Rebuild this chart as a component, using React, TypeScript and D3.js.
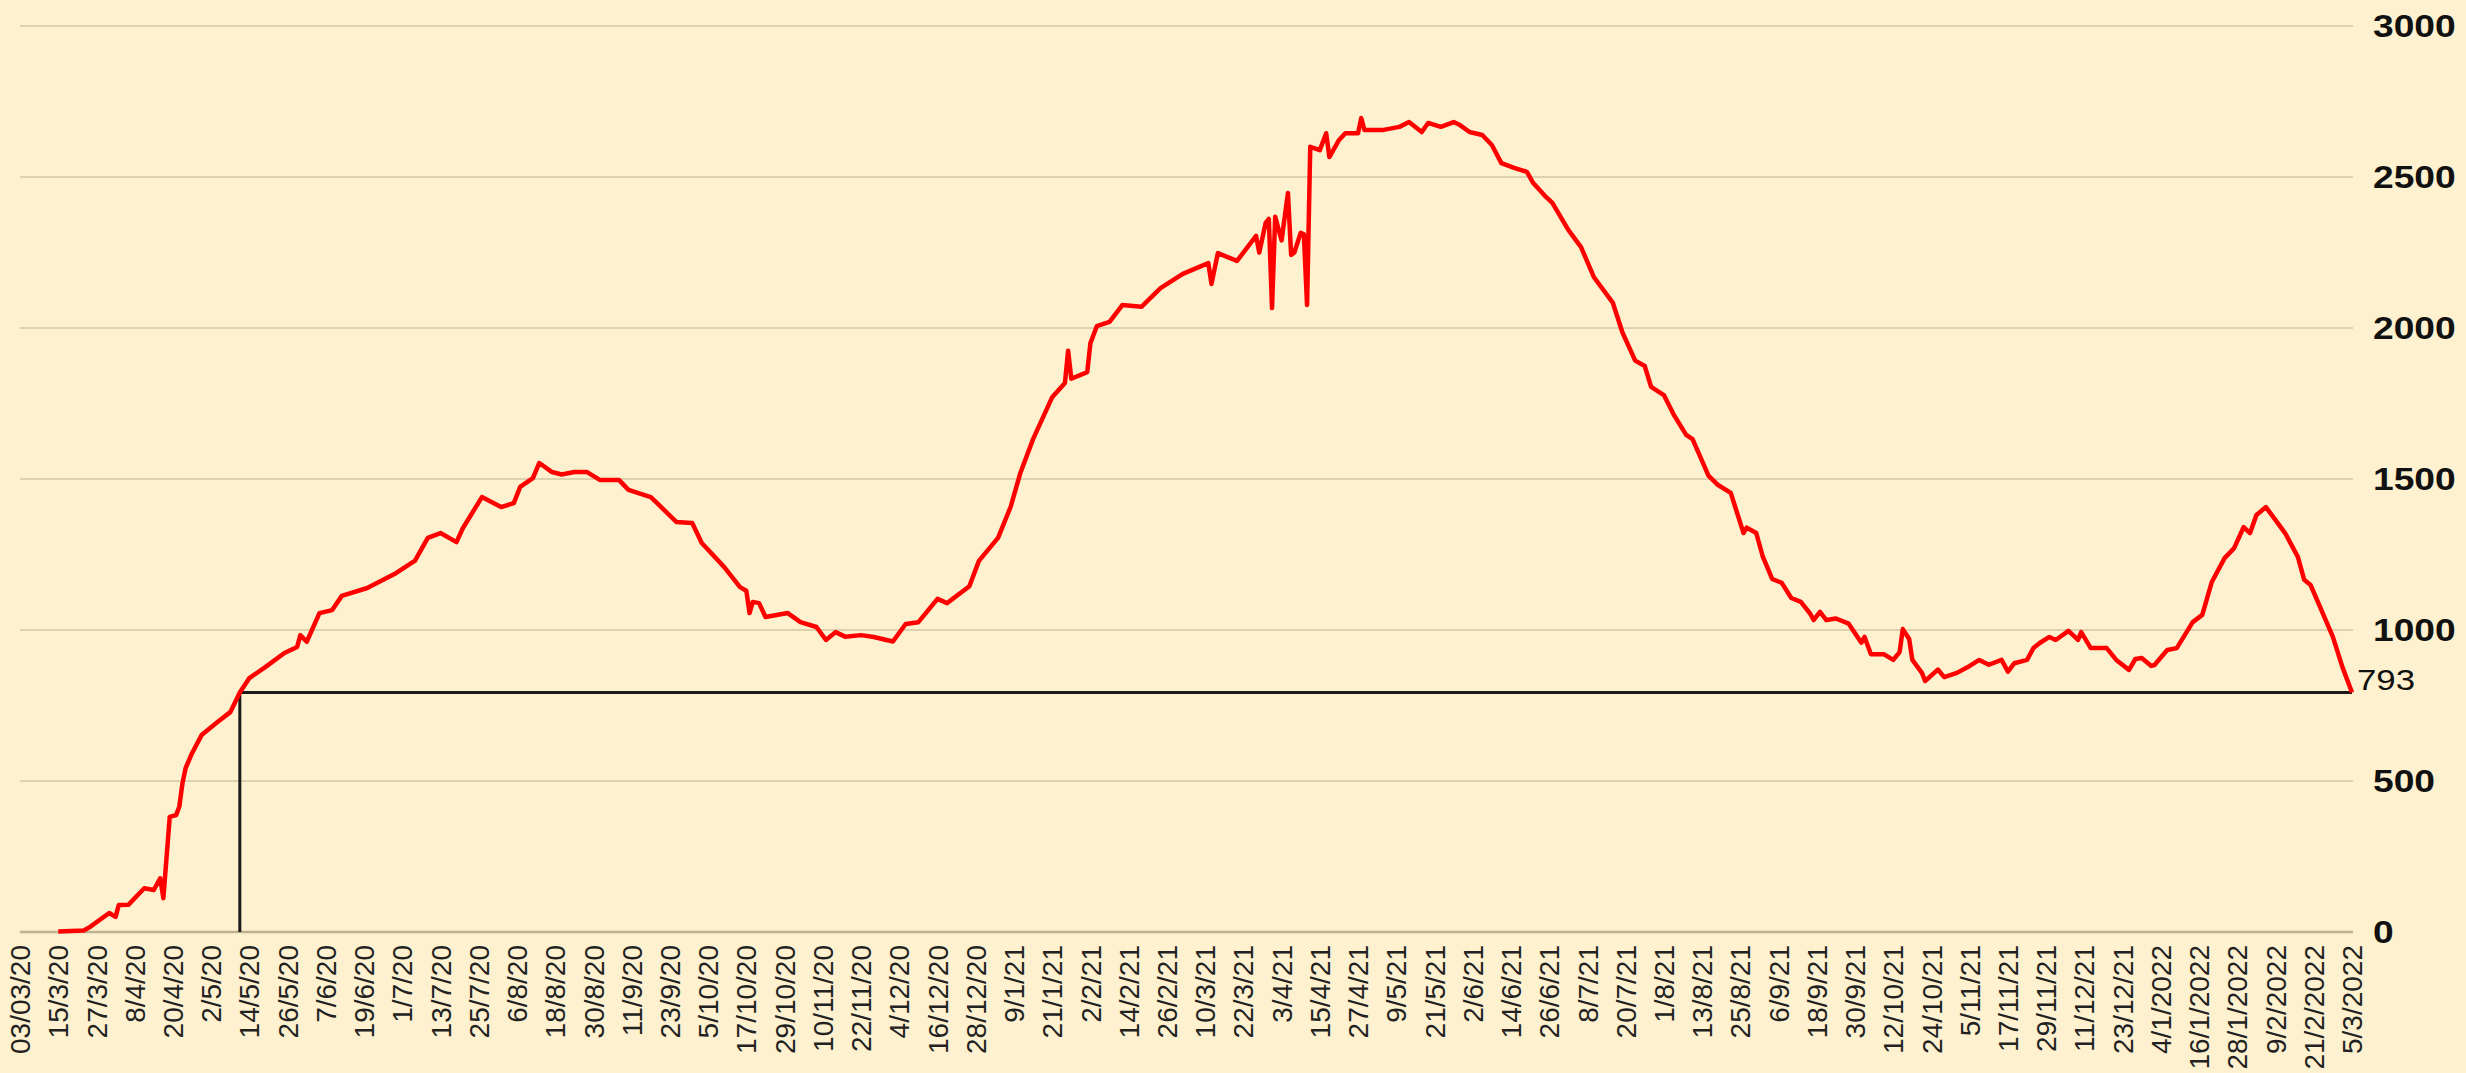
import React from "react";
import * as d3 from "d3";

// x-axis labels, one every 12 days starting 03/03/20
const xTickLabels = [
  "03/03/20", "15/3/20", "27/3/20", "8/4/20", "20/4/20", "2/5/20", "14/5/20", "26/5/20",
  "7/6/20", "19/6/20", "1/7/20", "13/7/20", "25/7/20", "6/8/20", "18/8/20", "30/8/20",
  "11/9/20", "23/9/20", "5/10/20", "17/10/20", "29/10/20", "10/11/20", "22/11/20", "4/12/20",
  "16/12/20", "28/12/20", "9/1/21", "21/1/21", "2/2/21", "14/2/21", "26/2/21", "10/3/21",
  "22/3/21", "3/4/21", "15/4/21", "27/4/21", "9/5/21", "21/5/21", "2/6/21", "14/6/21",
  "26/6/21", "8/7/21", "20/7/21", "1/8/21", "13/8/21", "25/8/21", "6/9/21", "18/9/21",
  "30/9/21", "12/10/21", "24/10/21", "5/11/21", "17/11/21", "29/11/21", "11/12/21", "23/12/21",
  "4/1/2022", "16/1/2022", "28/1/2022", "9/2/2022", "21/2/2022", "5/3/2022",
];
const yTicks = [0, 500, 1000, 1500, 2000, 2500, 3000];

const firstDate = "2020-03-03";
const lastDate = "2022-03-05";

// values
const series: [string, number][] = [
  ["2020-03-15", 2], ["2020-03-23", 5], ["2020-03-25", 17], ["2020-03-31", 63], ["2020-04-02", 50],
  ["2020-04-03", 89], ["2020-04-06", 90], ["2020-04-11", 145], ["2020-04-14", 139], ["2020-04-16", 178],
  ["2020-04-17", 112], ["2020-04-19", 381], ["2020-04-21", 387], ["2020-04-22", 415], ["2020-04-23", 493],
  ["2020-04-24", 543], ["2020-04-26", 592], ["2020-04-29", 652], ["2020-05-04", 695], ["2020-05-08", 728],
  ["2020-05-11", 793], ["2020-05-14", 841], ["2020-05-19", 877], ["2020-05-25", 924], ["2020-05-29", 944],
  ["2020-05-30", 983], ["2020-06-01", 961], ["2020-06-05", 1056], ["2020-06-09", 1066], ["2020-06-12", 1113],
  ["2020-06-20", 1139], ["2020-06-25", 1166], ["2020-06-29", 1188], ["2020-07-05", 1230], ["2020-07-09", 1305],
  ["2020-07-13", 1321], ["2020-07-18", 1291], ["2020-07-20", 1337], ["2020-07-26", 1440], ["2020-08-01", 1407],
  ["2020-08-05", 1420], ["2020-08-07", 1474], ["2020-08-11", 1503], ["2020-08-13", 1553], ["2020-08-17", 1523],
  ["2020-08-20", 1515], ["2020-08-24", 1523], ["2020-08-28", 1523], ["2020-09-01", 1497], ["2020-09-07", 1497],
  ["2020-09-10", 1464], ["2020-09-17", 1440], ["2020-09-19", 1420], ["2020-09-25", 1358], ["2020-09-30", 1354],
  ["2020-10-03", 1288], ["2020-10-10", 1209], ["2020-10-15", 1142], ["2020-10-17", 1130], ["2020-10-18", 1056],
  ["2020-10-19", 1093], ["2020-10-21", 1089], ["2020-10-23", 1043], ["2020-10-30", 1056], ["2020-11-03", 1026],
  ["2020-11-08", 1010], ["2020-11-11", 967], ["2020-11-14", 993], ["2020-11-17", 978], ["2020-11-22", 983],
  ["2020-11-26", 977], ["2020-12-02", 962], ["2020-12-06", 1020], ["2020-12-10", 1026], ["2020-12-16", 1103],
  ["2020-12-19", 1089], ["2020-12-26", 1145], ["2020-12-29", 1229], ["2021-01-04", 1305], ["2021-01-08", 1409],
  ["2021-01-11", 1520], ["2021-01-15", 1632], ["2021-01-21", 1771], ["2021-01-25", 1818], ["2021-01-26", 1925],
  ["2021-01-27", 1832], ["2021-02-01", 1854], ["2021-02-02", 1950], ["2021-02-04", 2006], ["2021-02-08", 2020],
  ["2021-02-12", 2076], ["2021-02-18", 2070], ["2021-02-24", 2132], ["2021-03-03", 2179], ["2021-03-11", 2215],
  ["2021-03-12", 2146], ["2021-03-14", 2248], ["2021-03-20", 2222], ["2021-03-26", 2305], ["2021-03-27", 2250],
  ["2021-03-29", 2348], ["2021-03-30", 2361], ["2021-03-31", 2066], ["2021-04-01", 2368], ["2021-04-03", 2290],
  ["2021-04-05", 2447], ["2021-04-06", 2242], ["2021-04-07", 2250], ["2021-04-09", 2315], ["2021-04-10", 2310],
  ["2021-04-11", 2076], ["2021-04-12", 2600], ["2021-04-15", 2589], ["2021-04-17", 2645], ["2021-04-18", 2566],
  ["2021-04-21", 2622], ["2021-04-23", 2645], ["2021-04-27", 2645], ["2021-04-28", 2695], ["2021-04-29", 2656],
  ["2021-05-05", 2656], ["2021-05-10", 2666], ["2021-05-13", 2682], ["2021-05-17", 2649], ["2021-05-19", 2679],
  ["2021-05-23", 2666], ["2021-05-27", 2682], ["2021-05-29", 2672], ["2021-06-01", 2649], ["2021-06-05", 2639],
  ["2021-06-08", 2606], ["2021-06-11", 2546], ["2021-06-15", 2530], ["2021-06-19", 2517], ["2021-06-21", 2480],
  ["2021-06-25", 2434], ["2021-06-27", 2414], ["2021-07-02", 2325], ["2021-07-06", 2268], ["2021-07-10", 2169],
  ["2021-07-16", 2083], ["2021-07-19", 1985], ["2021-07-23", 1892], ["2021-07-26", 1874], ["2021-07-28", 1805],
  ["2021-08-01", 1778], ["2021-08-04", 1715], ["2021-08-08", 1646], ["2021-08-10", 1632], ["2021-08-15", 1511],
  ["2021-08-18", 1480], ["2021-08-22", 1454], ["2021-08-26", 1321], ["2021-08-27", 1339], ["2021-08-30", 1321],
  ["2021-09-01", 1245], ["2021-09-04", 1169], ["2021-09-07", 1156], ["2021-09-10", 1106], ["2021-09-13", 1093],
  ["2021-09-16", 1053], ["2021-09-17", 1033], ["2021-09-19", 1060], ["2021-09-21", 1033], ["2021-09-24", 1038],
  ["2021-09-28", 1021], ["2021-10-02", 958], ["2021-10-03", 977], ["2021-10-05", 920], ["2021-10-09", 920],
  ["2021-10-12", 901], ["2021-10-14", 927], ["2021-10-15", 1003], ["2021-10-17", 970], ["2021-10-18", 901],
  ["2021-10-21", 858], ["2021-10-22", 831], ["2021-10-26", 869], ["2021-10-28", 844], ["2021-11-01", 858],
  ["2021-11-05", 881], ["2021-11-08", 901], ["2021-11-11", 885], ["2021-11-15", 901], ["2021-11-17", 862],
  ["2021-11-19", 890], ["2021-11-23", 901], ["2021-11-25", 940], ["2021-11-27", 957], ["2021-11-30", 977],
  ["2021-12-02", 967], ["2021-12-06", 997], ["2021-12-09", 967], ["2021-12-10", 993], ["2021-12-13", 940],
  ["2021-12-18", 940], ["2021-12-21", 901], ["2021-12-25", 868], ["2021-12-27", 904], ["2021-12-29", 907],
  ["2022-01-01", 881], ["2022-01-02", 884], ["2022-01-06", 934], ["2022-01-09", 940], ["2022-01-14", 1026],
  ["2022-01-17", 1050], ["2022-01-20", 1159], ["2022-01-24", 1238], ["2022-01-27", 1271], ["2022-01-30", 1341],
  ["2022-02-01", 1321], ["2022-02-03", 1381], ["2022-02-06", 1407], ["2022-02-09", 1364], ["2022-02-12", 1321],
  ["2022-02-16", 1242], ["2022-02-18", 1166], ["2022-02-20", 1149], ["2022-02-23", 1076], ["2022-02-27", 977],
  ["2022-03-02", 877], ["2022-03-05", 793],
];

// reference marker: the day the curve first reached today's level
const markerDate = "2020-05-11";
const markerValue = 793;

const W = 2466;
const H = 1073;
const parse = d3.utcParse("%Y-%m-%d");

export default function App() {
  const start = parse(firstDate)!;
  const end = parse(lastDate)!;
  const x = d3.scaleUtc().domain([start, end]).range([20, 2352]);
  const y = d3.scaleLinear().domain([0, 3000]).range([932, 26]);

  const line = d3
    .line<[string, number]>()
    .x((d) => x(parse(d[0])!))
    .y((d) => y(d[1]));

  const mx = x(parse(markerDate)!);
  const my = y(markerValue);
  const last = series[series.length - 1];

  return (
    <svg
      width={W}
      height={H}
      style={{ position: "absolute", left: 0, top: 0, background: "#fef1cf" }}
    >
      <rect width={W} height={H} fill="#fef1cf" />
      {/* gridlines */}
      {yTicks.map((t) => (
        <line
          key={t}
          x1={20}
          x2={2353}
          y1={y(t)}
          y2={y(t)}
          stroke={t === 0 ? "#bfb290" : "#ddd1b0"}
          strokeWidth={t === 0 ? 2.5 : 2}
        />
      ))}
      {/* y labels on the right */}
      {yTicks.map((t) => (
        <text
          key={"l" + t}
          transform={`translate(2373,${y(t)}) scale(1.2,1)`}
          dy="0.36em"
          fontFamily="Liberation Sans, Arial, sans-serif"
          fontWeight="bold"
          fontSize={31}
          fill="#111"
        >
          {t}
        </text>
      ))}
      {/* x labels */}
      {xTickLabels.map((lab, i) => {
        const tx = x(d3.utcDay.offset(start, i * 12));
        return (
          <text
            key={lab}
            transform={`translate(${tx},945) rotate(-90)`}
            textAnchor="end"
            dy="0.36em"
            fontFamily="Liberation Sans, Arial, sans-serif"
            fontSize={28}
            fill="#222"
          >
            {lab}
          </text>
        );
      })}
      {/* marker lines */}
      <line x1={mx} x2={mx} y1={y(0)} y2={my} stroke="#1a1a1a" strokeWidth={3} />
      <line x1={mx} x2={x(end)} y1={my} y2={my} stroke="#1a1a1a" strokeWidth={3} />
      {/* series */}
      <path
        d={line(series) || ""}
        fill="none"
        stroke="#ff0000"
        strokeWidth={4.5}
        strokeLinejoin="round"
      />
      <text
        transform={`translate(${x(parse(last[0])!) + 5},${y(last[1]) - 3}) scale(1.2,1)`}
        fontFamily="Liberation Sans, Arial, sans-serif"
        fontSize={29}
        fill="#111"
      >
        {last[1]}
      </text>
    </svg>
  );
}
